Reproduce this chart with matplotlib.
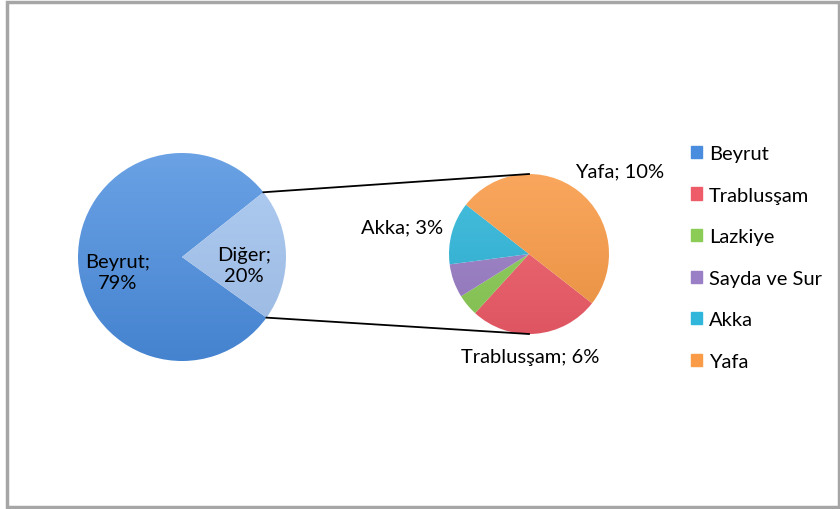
import numpy as np
import matplotlib.pyplot as plt
import matplotlib.colors as mcolors
from matplotlib.patches import Rectangle, Patch

plt.rcParams['font.family'] = ['Lato', 'DejaVu Sans']

# ana pasta: Beyrut ve Diğer (yüzde)
main_names = ['Beyrut', 'Diğer']
main_values = [79.4, 20.6]
main_labels = ['Beyrut;\n79%', 'Diğer;\n20%']
main_colors = ['#4a8ddf', '#a6c6f1']

# ikinci pasta: Diğer'in dağılımı
sec_names = ['Trablusşam', 'Lazkiye', 'Sayda ve Sur', 'Akka', 'Yafa']
sec_values = [5.4, 0.9, 1.4, 2.6, 10.3]
sec_labels = ['Trablusşam; 6%', '', '', 'Akka; 3%', 'Yafa; 10%']
sec_colors = ['#ef5c69', '#8bcc56', '#9a7ec6', '#2fb6da', '#f99b47']


def gradient_fill(ax, wedge, color, x0, x1, y0, y1, amount=0.18):
    # dilimi üstten alta hafif bir renk geçişiyle boya
    base = np.array(mcolors.to_rgb(color))
    light = base + (1 - base) * amount
    dark = base * 0.93
    t = np.linspace(0, 1, 64)[:, None]
    img = light * (1 - t[..., None]) + dark * t[..., None]
    img = np.repeat(img, 2, axis=1)
    im = ax.imshow(img, extent=(x0, x1, y0, y1), origin='upper', zorder=wedge.get_zorder())
    im.set_clip_path(wedge)
    wedge.set_facecolor('none')


fig = plt.figure(figsize=(8.4, 5.1), dpi=100)
ax = fig.add_axes([0, 0, 1, 1])
ax.axis('off')

# çerçeve
fig.patches.append(Rectangle((7 / 840, 2 / 510), 832 / 840, 505 / 510, transform=fig.transFigure,
                             fill=False, edgecolor='#a6a6a6', linewidth=2.5))

c1, r1 = (182, 252), 104
c2, r2 = (529, 255), 80

w1, _ = ax.pie(main_values, colors=main_colors, startangle=38.5, center=c1, radius=r1,
               wedgeprops=dict(linewidth=0))
w2, _ = ax.pie(sec_values, colors=sec_colors, startangle=-38, counterclock=False,
               center=c2, radius=r2, wedgeprops=dict(linewidth=0))
ax.set_xlim(0, 840)
ax.set_ylim(0, 510)
ax.set_aspect('equal')

gradient_fill(ax, w1[0], main_colors[0], c1[0] - r1, c1[0] + r1, c1[1] - r1, c1[1] + r1)
gradient_fill(ax, w1[1], main_colors[1], c1[0] - r1, c1[0] + r1, c1[1] - r1, c1[1] + r1, 0.1)
for w, col in zip(w2, sec_colors):
    gradient_fill(ax, w, col, c2[0] - r2, c2[0] + r2, c2[1] - r2, c2[1] + r2, 0.12)

# bağlantı çizgileri
for ang, sy in [(w1[1].theta2, c2[1] + r2), (w1[1].theta1, c2[1] - r2)]:
    px = c1[0] + r1 * np.cos(np.radians(ang))
    py = c1[1] + r1 * np.sin(np.radians(ang))
    ax.plot([px, c2[0]], [py, sy], color='black', lw=1.3, zorder=5)

fs = 14.5
ax.text(118, 237, main_labels[0], ha='center', va='center', fontsize=fs, linespacing=1.35)
ax.text(244, 244, main_labels[1], ha='center', va='center', fontsize=fs, linespacing=1.35)
ax.text(620, 338, sec_labels[4], ha='center', va='center', fontsize=fs)
ax.text(402, 282, sec_labels[3], ha='center', va='center', fontsize=fs)
ax.text(530, 153, sec_labels[0], ha='center', va='center', fontsize=fs)

names = [main_names[0]] + sec_names
leg_colors = [main_colors[0]] + sec_colors
fig.legend([Patch(color=c) for c in leg_colors], names, loc='upper left',
           bbox_to_anchor=(683 / 840, 1 - 138 / 510), frameon=False, fontsize=fs,
           handlelength=0.55, handleheight=0.55, handletextpad=0.35, labelspacing=1.22,
           borderaxespad=0)

fig.savefig('out.png', dpi=100)
